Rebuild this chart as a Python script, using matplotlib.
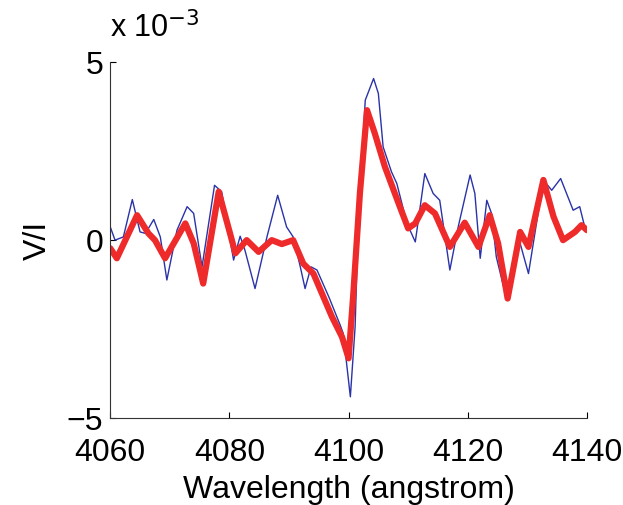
import matplotlib.pyplot as plt

plt.rcParams['font.family'] = ['Liberation Sans', 'DejaVu Sans']

# V/I in units of 1e-3
wl_obs = [4060, 4060.8, 4062.2, 4063.7, 4065.0, 4065.9, 4067.3, 4068.4, 4069.5,
          4071.2, 4072.9, 4074.0, 4075.4, 4077.5, 4078.7, 4080.7, 4081.8, 4082.6,
          4084.3, 4086.3, 4088.1, 4089.6, 4090.7, 4091.9, 4092.7, 4093.7, 4094.7,
          4096.7, 4098.6, 4099.1, 4100.3, 4101.1, 4101.6, 4102.8, 4104.2, 4105.0,
          4105.8, 4107.2, 4108.1, 4109.8, 4111.2, 4112.8, 4114.2, 4115.3, 4117.0,
          4118.4, 4120.4, 4121.2, 4122.1, 4123.2, 4124.0, 4124.8, 4126.5, 4128.5,
          4130.2, 4132.7, 4134.1, 4135.6, 4137.7, 4138.8, 4139.7, 4140]
vi_obs = [0.37, 0.00, 0.09, 1.14, 0.23, 0.19, 0.58, 0.09, -1.12,
          0.28, 0.94, 0.75, -0.75, 1.54, 1.36, -0.56, 0.11, -0.28,
          -1.36, 0.09, 1.26, 0.37, 0.09, -0.75, -1.36, -0.75, -0.84,
          -1.60, -2.39, -2.62, -4.40, -2.43, 0.37, 3.93, 4.54, 4.12,
          2.62, 1.92, 1.59, 0.47, -0.05, 1.87, 1.31, 1.12, -0.84,
          0.37, 1.83, 1.31, -0.51, 1.12, 0.75, -0.47, -1.64, 0.09,
          -0.94, 1.69, 1.40, 1.73, 0.84, 0.94, 0.33, 0.30]

wl_fit = [4060, 4061.1, 4064.5, 4066.4, 4067.5, 4069.2, 4072.6, 4074.0, 4075.6,
          4078.2, 4080.1, 4081.0, 4082.9, 4084.9, 4087.1, 4088.8, 4090.7, 4092.4,
          4094.1, 4097.2, 4098.9, 4100.0, 4100.8, 4101.9, 4103.1, 4104.4, 4106.1,
          4108.4, 4110.0, 4111.2, 4112.8, 4114.5, 4117.0, 4119.5, 4121.8, 4123.7,
          4125.1, 4126.7, 4128.8, 4130.2, 4132.7, 4134.4, 4136.0, 4138.0, 4139.1,
          4140]
vi_fit = [-0.23, -0.51, 0.70, 0.19, 0.00, -0.51, 0.47, -0.09, -1.22,
          1.36, 0.19, -0.37, 0.00, -0.33, 0.00, -0.11, 0.00, -0.66,
          -0.94, -2.15, -2.72, -3.32, -1.50, 1.31, 3.65, 3.00, 2.06,
          1.03, 0.33, 0.47, 0.98, 0.75, -0.19, 0.49, -0.19, 0.70,
          -0.09, -1.64, 0.23, -0.19, 1.69, 0.66, 0.00, 0.23, 0.42,
          0.28]

fig = plt.figure(figsize=(6.23, 5.05), dpi=100)
ax = fig.add_axes([0.177, 0.172, 0.765, 0.705])

ax.plot(wl_obs, vi_obs, color='#2a33a8', lw=1.0, solid_joinstyle='round')
ax.plot(wl_fit, vi_fit, color='#ee2a2a', lw=4.5, solid_joinstyle='round',
        solid_capstyle='round')

ax.set_xlim(4060, 4140)
ax.set_ylim(-5, 5)
ax.set_xticks([4060, 4080, 4100, 4120, 4140])
ax.set_yticks([-5, 0, 5])
ax.set_yticklabels(['\u22125', '0', '5'])
ax.tick_params(direction='in', labelsize=23, length=4)
ax.tick_params(axis='x', pad=14)
ax.tick_params(axis='y', pad=5)
ax.spines['top'].set_visible(False)
ax.spines['right'].set_visible(False)
ax.spines['left'].set_color('#333333')
ax.spines['bottom'].set_color('#333333')

ax.set_xlabel('Wavelength (angstrom)', fontsize=23, labelpad=5)
ax.set_ylabel('V/I', fontsize=23, labelpad=10)
ax.text(0.0, 1.05, r'x 10$^{-3}$', transform=ax.transAxes, fontsize=22,
        ha='left', va='bottom')

fig.savefig('out.png', dpi=100)
